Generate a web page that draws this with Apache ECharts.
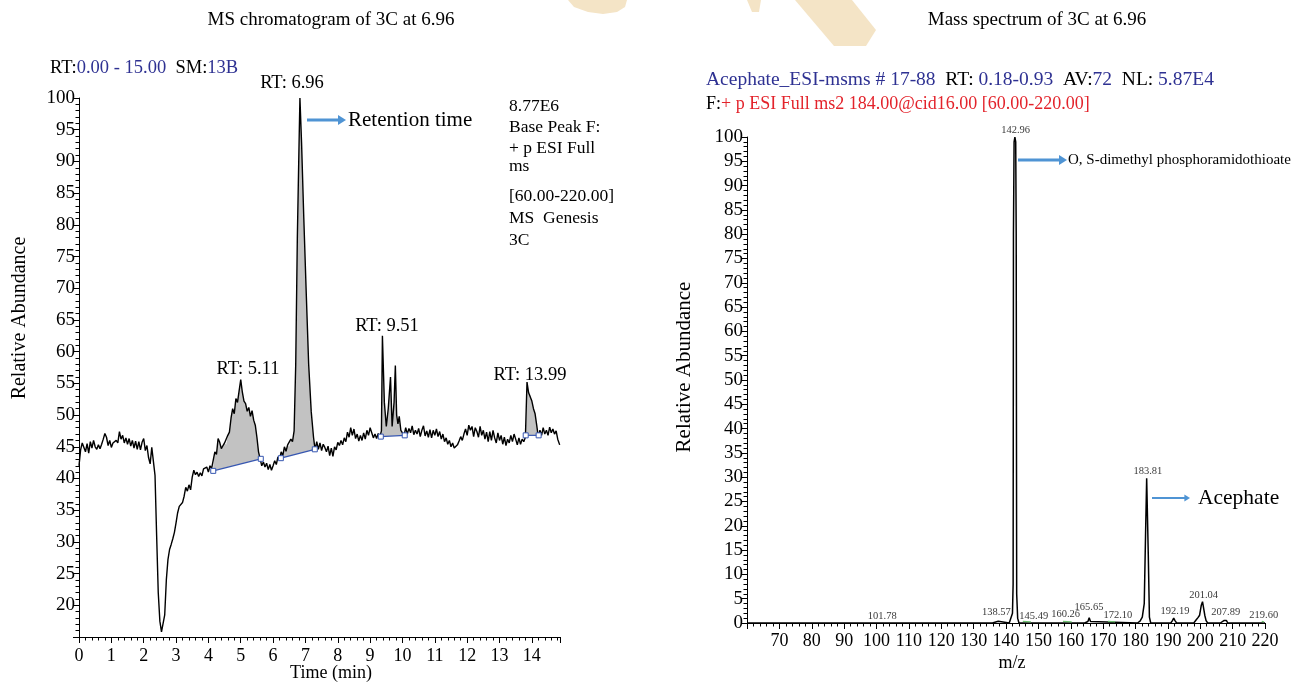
<!DOCTYPE html>
<html><head><meta charset="utf-8">
<script src="https://cdn.jsdelivr.net/npm/echarts@6/dist/echarts.min.js"></script>
<style>html,body{margin:0;padding:0;background:#fff}#c{width:1302px;height:683px}</style>
</head><body><div id="c"></div>
<script>
// ---------- DATA ----------
// Chromatogram trace: [time (min), relative abundance]
const chromTrace = [
[0.00,42.0],[0.05,44.5],[0.10,45.6],[0.15,45.9],[0.20,44.2],[0.25,45.5],[0.30,44.0],[0.35,45.8],[0.40,44.8],[0.45,46.0],
[0.50,45.0],[0.55,44.6],[0.60,45.3],[0.65,44.7],[0.70,45.4],[0.75,46.2],[0.80,47.1],[0.85,46.5],[0.90,45.2],[0.95,46.0],
[1.00,44.9],[1.05,45.6],[1.10,45.3],[1.15,46.0],[1.20,45.6],[1.25,47.4],[1.30,46.2],[1.35,46.8],[1.40,45.6],[1.45,46.4],
[1.50,45.4],[1.55,46.3],[1.60,45.1],[1.65,46.0],[1.70,44.8],[1.75,45.9],[1.80,44.6],[1.85,45.8],[1.90,44.5],[1.95,45.7],
[2.00,46.3],[2.05,44.4],[2.10,45.2],[2.15,43.3],[2.20,42.3],[2.25,44.9],[2.30,44.6],[2.35,40.5],[2.40,31.0],[2.45,22.0],
[2.50,17.5],[2.55,15.8],[2.60,15.6],[2.65,18.5],[2.70,24.0],[2.75,27.2],[2.80,28.8],[2.85,29.6],[2.90,30.5],[2.95,31.5],
[3.00,33.0],[3.05,34.6],[3.10,35.6],[3.15,35.9],[3.20,36.2],[3.25,37.2],[3.30,38.6],[3.35,38.0],[3.40,39.0],[3.45,38.2],
[3.50,40.2],[3.55,41.3],[3.60,40.6],[3.65,41.0],[3.70,40.3],[3.75,40.9],[3.80,40.4],[3.85,41.5],[3.90,41.2],[3.95,41.8],
[4.00,41.0],[4.05,42.0],[4.10,41.6],[4.15,41.9],[4.20,44.2],[4.25,43.8],[4.30,46.3],[4.35,45.7],[4.40,44.7],[4.45,44.9],
[4.50,45.6],[4.55,45.3],[4.60,46.8],[4.65,47.3],[4.70,49.5],[4.75,51.0],[4.80,50.2],[4.85,52.6],[4.90,52.0],[4.95,53.8],
[5.00,55.6],[5.05,53.6],[5.10,52.2],[5.15,51.8],[5.20,50.6],[5.25,51.2],[5.30,49.8],[5.35,50.7],[5.40,49.2],[5.45,48.4],
[5.50,46.5],[5.55,44.2],[5.60,43.1],[5.65,42.0],[5.70,42.6],[5.75,41.8],[5.80,42.4],[5.85,41.4],[5.90,42.2],[5.95,41.3],
[6.00,42.0],[6.05,42.8],[6.10,42.2],[6.15,43.4],[6.20,43.0],[6.25,44.2],[6.30,43.6],[6.35,45.0],[6.40,44.3],[6.45,45.3],
[6.50,45.0],[6.55,46.2],[6.60,45.8],[6.65,47.5],[6.70,58.0],[6.75,78.0],[6.80,92.0],[6.83,100.0],[6.88,93.0],[6.95,81.0],
[7.02,70.0],[7.10,58.0],[7.18,50.5],[7.25,46.5],[7.30,44.5],[7.35,45.8],[7.40,44.6],[7.45,45.6],[7.50,44.4],[7.55,45.4],
[7.60,44.9],[7.65,44.2],[7.70,45.1],[7.75,43.6],[7.80,44.8],[7.85,43.5],[7.90,45.0],[7.95,44.5],[8.00,45.7],[8.05,45.2],
[8.10,46.0],[8.15,45.3],[8.20,46.4],[8.25,45.8],[8.30,47.3],[8.35,46.5],[8.40,48.0],[8.45,46.8],[8.50,47.8],[8.55,46.3],
[8.60,47.0],[8.65,45.9],[8.70,46.8],[8.75,46.0],[8.80,47.2],[8.85,46.2],[8.90,47.6],[8.95,46.8],[9.00,48.0],[9.05,47.2],
[9.10,46.4],[9.15,47.0],[9.20,46.3],[9.25,47.1],[9.30,46.6],[9.35,47.5],[9.38,62.5],[9.44,52.0],[9.50,48.2],[9.56,51.0],
[9.63,56.0],[9.68,48.2],[9.74,52.0],[9.78,57.8],[9.82,50.0],[9.86,48.6],[9.90,49.8],[9.95,47.6],[10.00,47.2],[10.05,46.8],
[10.10,48.0],[10.15,47.0],[10.20,47.9],[10.25,47.2],[10.30,48.3],[10.35,46.9],[10.40,47.6],[10.45,47.0],[10.50,47.9],[10.55,46.6],
[10.60,47.6],[10.65,48.3],[10.70,46.7],[10.75,47.5],[10.80,46.5],[10.85,47.7],[10.90,46.4],[10.95,47.6],[11.00,46.8],[11.05,47.8],
[11.10,46.6],[11.15,47.4],[11.20,46.2],[11.25,47.0],[11.30,45.8],[11.35,46.4],[11.40,45.4],[11.45,46.0],[11.50,45.0],[11.55,45.6],
[11.60,44.8],[11.65,44.6],[11.70,45.3],[11.75,45.9],[11.80,46.6],[11.85,46.0],[11.90,47.0],[11.95,47.8],[12.00,46.8],[12.05,48.4],
[12.10,47.6],[12.15,48.2],[12.20,46.6],[12.25,48.0],[12.30,47.4],[12.35,46.5],[12.40,48.2],[12.45,46.8],[12.50,47.6],[12.55,46.2],
[12.60,47.3],[12.65,45.8],[12.70,47.4],[12.75,46.0],[12.80,47.6],[12.85,46.4],[12.90,45.6],[12.95,47.2],[13.00,46.0],[13.05,46.8],
[13.10,45.4],[13.15,46.5],[13.20,45.2],[13.25,46.2],[13.30,45.6],[13.35,46.8],[13.40,45.8],[13.45,47.0],[13.50,46.2],[13.55,45.3],
[13.60,46.4],[13.65,45.4],[13.70,46.2],[13.75,45.8],[13.80,46.5],[13.85,55.2],[13.90,53.5],[13.95,53.2],[14.00,52.2],[14.05,51.0],
[14.10,50.2],[14.15,48.4],[14.20,46.5],[14.25,47.6],[14.30,46.8],[14.35,48.0],[14.40,47.0],[14.45,47.6],[14.50,46.8],[14.55,48.1],
[14.60,47.2],[14.65,47.8],[14.70,47.0],[14.75,47.5],[14.80,46.2],[14.86,45.3]
];
// Integrated peaks: [start time, start baseline, end time, end baseline]
const peakBaselines = [
  [4.15, 41.2, 5.62, 43.1],
  [6.24, 43.2, 7.29, 44.6],
  [9.33, 46.6, 10.07, 46.8],
  [13.81, 46.8, 14.21, 46.8]
];
const peakRtLabels = ['RT: 5.11', 'RT: 6.96', 'RT: 9.51', 'RT: 13.99'];

// Mass spectrum profile: [m/z, relative abundance]
const spectrumTrace = [
[60,0],[101.5,0],[101.8,0.1],[102.1,0],[135.8,0],[136.3,0.3],[137.6,0.35],[138.1,0],
[141.0,0],[141.6,0.4],[142.0,2],[142.2,8],[142.3,80],[142.5,99],[142.75,100],[143.0,99],[143.15,80],[143.3,6],[143.6,1],[144.0,0],
[159.5,0],[159.9,0.3],[160.3,0],[164.3,0],[164.8,0.4],[165.3,0.3],[165.7,1.1],[166.1,0.3],[166.5,0],
[180.6,0],[181.4,0.4],[182.1,1.2],[182.7,4],[183.1,18],[183.45,29.8],[183.65,29.8],[183.95,14],[184.3,1.2],[184.7,0],
[190.9,0],[191.4,0.5],[191.8,1.0],[192.2,0.5],[192.7,0],
[198.0,0],[198.7,0.6],[199.3,1.1],[199.8,1.6],[200.3,3.6],[200.7,4.4],[201.0,4.2],[201.4,1.6],[201.8,0.5],[202.3,0],
[206.2,0],[206.8,0.4],[207.3,0.5],[207.7,0.8],[208.1,0.5],[208.5,0],[220,0]
];
// Labelled m/z values and the abundance level at which each label sits
const mzLabels = [142.96, 183.81, 201.04, 192.19, 165.65, 207.89, 138.57, 145.49, 160.26, 172.10, 219.60, 101.78];
const mzLabelLevel = [100, 29.9, 4.4, 1.1, 1.85, 0.9, 0.9, 0.15, 0.55, 0.27, 0.27, 0.06];
// Small green noise marks: [from m/z, to m/z]
const greenMarks = [[145.2, 147.7], [157.6, 160.3], [171.5, 173.7], [219.0, 219.7]];

// ---------- STYLE ----------
const SERIF = "'Liberation Serif','Times New Roman',serif";
const BLUE_TXT = '#2e3192';
const RED_TXT = '#e3232b';
const ARROW = '#4f94d4';
// horizontal nudges (px) for crowded m/z labels, by label index
const mzLabelDx = [0, 0, 0, 0, 0, 0, -5, 10, -6, 8, 0, 0];

const chart = echarts.init(document.getElementById('c'), null, {renderer:'canvas'});

function axisCommon(){
  return {
    axisLine:{show:true,onZero:false,lineStyle:{color:'#000',width:1}},
    axisTick:{show:true,inside:false,length:6,lineStyle:{color:'#000',width:1}},
    minorTick:{show:true,splitNumber:5,length:3.5,lineStyle:{color:'#000',width:1}},
    splitLine:{show:false}
  };
}

function txt(x,y,text,opt){
  return {type:'text',x:x,y:y,silent:true,style:Object.assign({text:text,fill:'#000',font:'17.5px '+SERIF,align:'left',verticalAlign:'middle'},opt||{})};
}
function arrow(x1,x2,y,w,h){
  return {type:'group',silent:true,children:[
    {type:'line',shape:{x1:x1,y1:y,x2:x2-h*1.2,y2:y},style:{stroke:ARROW,lineWidth:w}},
    {type:'polygon',shape:{points:[[x2-h*1.6,y-h],[x2,y],[x2-h*1.6,y+h]]},style:{fill:ARROW}}
  ]};
}

const leftName = txt(20,318,'Relative Abundance',{align:'center',font:'20px '+SERIF});
leftName.rotation = Math.PI/2;
const rightName = txt(684,367,'Relative Abundance',{align:'center',font:'21px '+SERIF});
rightName.rotation = Math.PI/2;

const option = {
  animation:false,
  backgroundColor:'#fff',
  grid:[
    {left:79,top:98,width:481,height:539,containLabel:false},
    {left:747,top:137,width:518,height:486,containLabel:false}
  ],
  xAxis:[
    Object.assign(axisCommon(),{type:'value',gridIndex:0,min:0,max:14.87,interval:1,
      axisLabel:{color:'#000',fontFamily:SERIF,fontSize:18,margin:10,showMaxLabel:false,formatter:v=>String(v)}}),
    Object.assign(axisCommon(),{type:'value',gridIndex:1,min:60,max:220,interval:10,
      axisLabel:{color:'#000',fontFamily:SERIF,fontSize:18,margin:9,formatter:v=>v===60?'':String(v)}})
  ],
  yAxis:[
    Object.assign(axisCommon(),{type:'value',gridIndex:0,min:15,max:100,interval:5,
      axisLabel:{color:'#000',fontFamily:SERIF,fontSize:19,margin:4,formatter:v=>v===15?'':String(v)}}),
    Object.assign(axisCommon(),{type:'value',gridIndex:1,min:0,max:100,interval:5,
      axisLabel:{color:'#000',fontFamily:SERIF,fontSize:19,margin:4}})
  ],
  series:[
    { // grey peak areas between trace and baseline
      type:'custom',xAxisIndex:0,yAxisIndex:0,z:1,silent:true,
      data:peakBaselines,encode:{x:[0,2],y:[1,3]},
      renderItem:function(params,api){
        const p = peakBaselines[params.dataIndex];
        const pts = [api.coord([p[0],p[1]])];
        chromTrace.forEach(d=>{ if(d[0]>=p[0] && d[0]<=p[2]) pts.push(api.coord(d)); });
        pts.push(api.coord([p[2],p[3]]));
        return {type:'polygon',shape:{points:pts},style:{fill:'#c2c2c2',stroke:null}};
      }
    },
    { // chromatogram trace
      type:'line',xAxisIndex:0,yAxisIndex:0,z:3,data:chromTrace,symbol:'none',silent:true,
      lineStyle:{color:'#000',width:1.4}
    },
    { // baselines with square markers
      type:'custom',xAxisIndex:0,yAxisIndex:0,z:4,silent:true,
      data:peakBaselines,encode:{x:[0,2],y:[1,3]},
      renderItem:function(params,api){
        const p = peakBaselines[params.dataIndex];
        const a = api.coord([p[0],p[1]]), b = api.coord([p[2],p[3]]);
        const s = 5;
        return {type:'group',children:[
          {type:'line',shape:{x1:a[0],y1:a[1],x2:b[0],y2:b[1]},style:{stroke:'#3656b0',lineWidth:1.2}},
          {type:'rect',shape:{x:a[0]-s/2,y:a[1]-s/2,width:s,height:s},style:{fill:'#fff',stroke:'#3656b0',lineWidth:1}},
          {type:'rect',shape:{x:b[0]-s/2,y:b[1]-s/2,width:s,height:s},style:{fill:'#fff',stroke:'#3656b0',lineWidth:1}}
        ]};
      }
    },
    { // spectrum profile
      type:'line',xAxisIndex:1,yAxisIndex:1,z:3,data:spectrumTrace,symbol:'none',silent:true,
      lineStyle:{color:'#000',width:1.5}
    },
    { // green noise marks
      type:'custom',xAxisIndex:1,yAxisIndex:1,z:4,silent:true,
      data:greenMarks,encode:{x:[0,1]},
      renderItem:function(params,api){
        const m = greenMarks[params.dataIndex];
        const a = api.coord([m[0],0.35]), b = api.coord([m[1],0.25]);
        return {type:'line',shape:{x1:a[0],y1:a[1],x2:b[0],y2:b[1]},style:{stroke:'#6cc070',lineWidth:1.3}};
      }
    },
    { // m/z labels
      type:'scatter',xAxisIndex:1,yAxisIndex:1,z:5,silent:true,symbolSize:2,
      itemStyle:{color:'rgba(0,0,0,0)'},
      data:mzLabels.map((m,i)=>[m,mzLabelLevel[i]]),
      label:{show:true,position:'top',distance:0,color:'#000',fontFamily:SERIF,fontSize:10.5,
        formatter:p=>p.value[0].toFixed(2)},
      labelLayout:function(params){ return {dx:mzLabelDx[params.dataIndex]||0, hideOverlap:false}; }
    }
  ],
  graphic:[
    // watermark fragments
    {type:'polygon',silent:true,z:-10,shape:{points:[[568,0],[627,0],[625,7],[617,12],[603,14],[588,12],[574,7]]},style:{fill:'#f4e4c6'}},
    {type:'polygon',silent:true,z:-10,shape:{points:[[747,0],[761,0],[759,12],[752,12]]},style:{fill:'#f4e4c6'}},
    {type:'polygon',silent:true,z:-10,shape:{points:[[795,0],[852,0],[876,30],[866,46],[834,46]]},style:{fill:'#f4e4c6'}},
    // titles
    txt(331,20,'MS chromatogram of 3C at 6.96',{align:'center',font:'19px '+SERIF}),
    txt(1037,20,'Mass spectrum of 3C at 6.96',{align:'center',font:'19px '+SERIF}),
    // left header
    txt(50,68,'{k|RT:}{v|0.00 - 15.00}  {k|SM:}{v|13B}',{font:'18.5px '+SERIF,rich:{k:{fill:'#000',font:'18.5px '+SERIF},v:{fill:BLUE_TXT,font:'18.5px '+SERIF}}}),
    // axis names
    leftName,
    txt(331,673,'Time (min)',{align:'center',font:'18px '+SERIF}),
    rightName,
    txt(1012,663,'m/z',{align:'center',font:'18px '+SERIF}),
    // RT labels
    txt(292,83,peakRtLabels[1],{align:'center',font:'18.5px '+SERIF}),
    txt(248,369,peakRtLabels[0],{align:'center',font:'18.5px '+SERIF}),
    txt(387,326,peakRtLabels[2],{align:'center',font:'18.5px '+SERIF}),
    txt(530,375,peakRtLabels[3],{align:'center',font:'18.5px '+SERIF}),
    // retention time annotation
    arrow(307,346,120,3,5),
    txt(348,120,'Retention time',{font:'21px '+SERIF}),
    // info block
    txt(509,106,'8.77E6'),
    txt(509,127,'Base Peak F:'),
    txt(509,148,'+ p ESI Full'),
    txt(509,166,'ms'),
    txt(509,196,'[60.00-220.00]'),
    txt(509,218,'MS  Genesis'),
    txt(509,240,'3C'),
    // right header
    txt(706,80,'{b|Acephate_ESI-msms # 17-88}  {k|RT:}{b| 0.18-0.93}  {k|AV:}{b|72}  {k|NL:}{b| 5.87E4}',
      {font:'19.5px '+SERIF,rich:{k:{fill:'#000',font:'19.5px '+SERIF},b:{fill:BLUE_TXT,font:'19.5px '+SERIF}}}),
    txt(706,104,'{k|F:}{r|+ p ESI Full ms2 184.00@cid16.00 [60.00-220.00]}',
      {font:'18px '+SERIF,rich:{k:{fill:'#000',font:'18px '+SERIF},r:{fill:RED_TXT,font:'18px '+SERIF}}}),
    // spectrum annotations
    arrow(1018,1067,160,3,5),
    txt(1068,160,'O, S-dimethyl phosphoramidothioate',{font:'15px '+SERIF}),
    arrow(1152,1190,498,2,3.5),
    txt(1198,498,'Acephate',{font:'21.5px '+SERIF})
  ]
};
chart.setOption(option);
</script>
</body></html>
